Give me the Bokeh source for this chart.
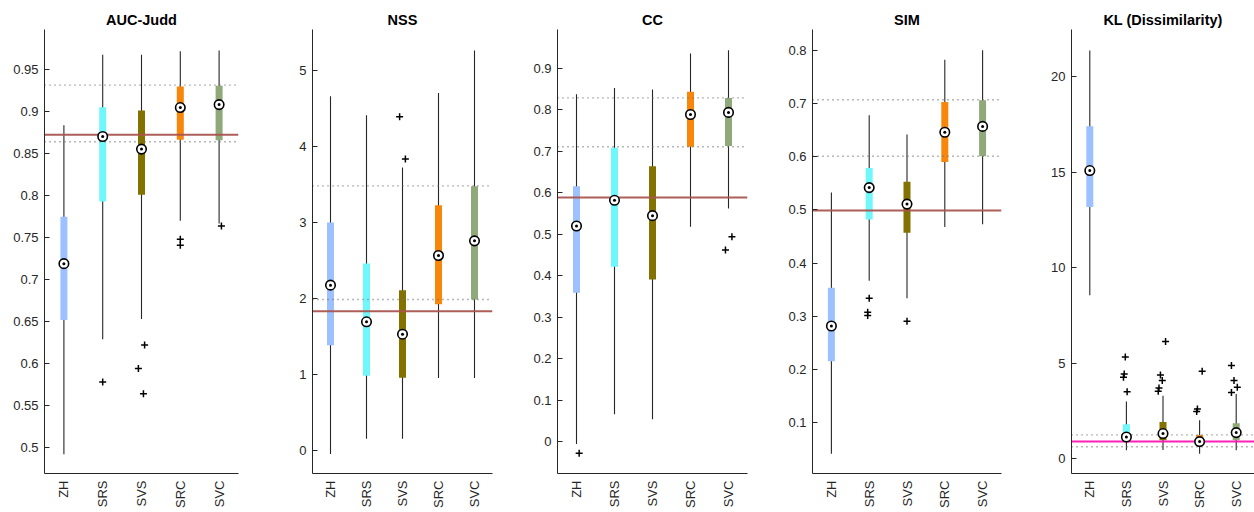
import math
from bokeh.plotting import figure
from bokeh.layouts import row
from bokeh.models import Range1d, FixedTicker
from bokeh.embed import file_html
from bokeh.resources import INLINE

categories = ["ZH", "SRS", "SVS", "SRC", "SVC"]
box_colors = ["#9dc1ff", "#70f7fb", "#847200", "#f7860b", "#8fa97b"]

# ---- AUC-Judd ----
auc_lo = [0.492, 0.629, 0.653, 0.770, 0.767]
auc_q1 = [0.652, 0.793, 0.801, 0.8665, 0.866]
auc_med = [0.719, 0.8705, 0.8555, 0.905, 0.9085]
auc_q3 = [0.775, 0.9055, 0.9015, 0.930, 0.931]
auc_hi = [0.884, 0.968, 0.968, 0.972, 0.973]
auc_out_cat = [2, 3, 3, 3, 4, 4, 5]
auc_out_val = [0.578, 0.622, 0.594, 0.564, 0.748, 0.741, 0.764]
auc_out_dx = [0.0, 0.08, -0.08, 0.05, 0.0, 0.0, 0.06]
auc_ref = 0.8725
auc_dots = [0.9317, 0.8643]
auc_ticks = [0.5, 0.55, 0.6, 0.65, 0.7, 0.75, 0.8, 0.85, 0.9, 0.95]
auc_tick_labels = ["0.5", "0.55", "0.6", "0.65", "0.7", "0.75", "0.8", "0.85", "0.9", "0.95"]

# ---- NSS ----
nss_lo = [-0.05, 0.15, 0.15, 0.95, 0.95]
nss_q1 = [1.382, 0.978, 0.952, 1.921, 1.982]
nss_med = [2.171, 1.689, 1.526, 2.561, 2.754]
nss_q3 = [2.996, 2.456, 2.105, 3.224, 3.474]
nss_hi = [4.658, 4.408, 3.72, 4.70, 5.26]
nss_out_cat = [3, 3]
nss_out_val = [4.386, 3.83]
nss_out_dx = [-0.08, 0.08]
nss_ref = 1.829
nss_dots = [3.478, 1.982]
nss_ticks = [0, 1, 2, 3, 4, 5]
nss_tick_labels = ["0", "1", "2", "3", "4", "5"]

# ---- CC ----
cc_lo = [-0.006, 0.066, 0.054, 0.518, 0.562]
cc_q1 = [0.359, 0.422, 0.391, 0.711, 0.713]
cc_med = [0.520, 0.582, 0.545, 0.789, 0.794]
cc_q3 = [0.616, 0.709, 0.664, 0.844, 0.829]
cc_hi = [0.838, 0.853, 0.849, 0.936, 0.944]
cc_out_cat = [1, 5, 5]
cc_out_val = [-0.028, 0.494, 0.462]
cc_out_dx = [0.07, 0.09, -0.08]
cc_ref = 0.589
cc_dots = [0.829, 0.711]
cc_ticks = [0, 0.1, 0.2, 0.3, 0.4, 0.5, 0.6, 0.7, 0.8, 0.9]
cc_tick_labels = ["0", "0.1", "0.2", "0.3", "0.4", "0.5", "0.6", "0.7", "0.8", "0.9"]

# ---- SIM ----
sim_lo = [0.042, 0.367, 0.334, 0.468, 0.473]
sim_q1 = [0.216, 0.482, 0.457, 0.590, 0.601]
sim_med = [0.282, 0.542, 0.511, 0.646, 0.657]
sim_q3 = [0.354, 0.579, 0.553, 0.703, 0.706]
sim_hi = [0.533, 0.678, 0.642, 0.782, 0.800]
sim_out_cat = [2, 2, 2, 3]
sim_out_val = [0.334, 0.308, 0.302, 0.291]
sim_out_dx = [0.0, -0.04, -0.04, 0.0]
sim_ref = 0.499
sim_dots = [0.707, 0.601]
sim_ticks = [0.1, 0.2, 0.3, 0.4, 0.5, 0.6, 0.7, 0.8]
sim_tick_labels = ["0.1", "0.2", "0.3", "0.4", "0.5", "0.6", "0.7", "0.8"]

# ---- KL (Dissimilarity) ----
kl_lo = [8.56, 0.44, 0.46, 0.26, 0.44]
kl_q1 = [13.17, 1.0, 0.97, 0.76, 0.97]
kl_med = [15.08, 1.14, 1.32, 0.90, 1.37]
kl_q3 = [17.40, 1.81, 1.93, 1.25, 1.86]
kl_hi = [21.36, 3.0, 3.30, 2.02, 3.39]
kl_out_cat = [2, 2, 2, 2, 3, 3, 3, 3, 3, 4, 4, 4, 5, 5, 5, 5]
kl_out_val = [5.32, 4.44, 4.26, 3.51, 6.14, 4.39, 4.09, 3.70, 3.53, 4.58, 2.60, 2.47, 4.88, 4.09, 3.74, 3.47]
kl_out_dx = [-0.03, -0.06, -0.08, 0.02, 0.07, -0.07, -0.02, -0.11, -0.13, 0.07, -0.06, -0.08, -0.13, -0.06, 0.03, -0.13]
kl_ref = 0.90
kl_dots = [1.25, 0.63]
kl_ticks = [0, 5, 10, 15, 20]
kl_tick_labels = ["0", "5", "10", "15", "20"]

panels = [
    dict(title="AUC-Judd", lo=auc_lo, q1=auc_q1, med=auc_med, q3=auc_q3, hi=auc_hi,
         oc=auc_out_cat, ov=auc_out_val, od=auc_out_dx, ref=auc_ref, ref_color="#a9554f",
         dots=auc_dots, ticks=auc_ticks, labels=auc_tick_labels, yr=(0.469, 0.998),
         w=270, bl=44, br=32),
    dict(title="NSS", lo=nss_lo, q1=nss_q1, med=nss_med, q3=nss_q3, hi=nss_hi,
         oc=nss_out_cat, ov=nss_out_val, od=nss_out_dx, ref=nss_ref, ref_color="#a9554f",
         dots=nss_dots, ticks=nss_ticks, labels=nss_tick_labels, yr=(-0.307, 5.535),
         w=250, bl=42, br=28),
    dict(title="CC", lo=cc_lo, q1=cc_q1, med=cc_med, q3=cc_q3, hi=cc_hi,
         oc=cc_out_cat, ov=cc_out_val, od=cc_out_dx, ref=cc_ref, ref_color="#a9554f",
         dots=cc_dots, ticks=cc_ticks, labels=cc_tick_labels, yr=(-0.077, 0.994),
         w=255, bl=37, br=28),
    dict(title="SIM", lo=sim_lo, q1=sim_q1, med=sim_med, q3=sim_q3, hi=sim_hi,
         oc=sim_out_cat, ov=sim_out_val, od=sim_out_dx, ref=sim_ref, ref_color="#a9554f",
         dots=sim_dots, ticks=sim_ticks, labels=sim_tick_labels, yr=(0.005, 0.839),
         w=255, bl=37, br=29),
    dict(title="KL (Dissimilarity)", lo=kl_lo, q1=kl_q1, med=kl_med, q3=kl_q3, hi=kl_hi,
         oc=kl_out_cat, ov=kl_out_val, od=kl_out_dx, ref=kl_ref, ref_color="#ff14b4",
         dots=kl_dots, ticks=kl_ticks, labels=kl_tick_labels, yr=(-0.77, 22.46),
         w=224, bl=41, br=0),
]

FONT = "Liberation Sans"
AX = "#262626"
X0, X1 = 0.5, 5.5
xs = list(range(1, len(categories) + 1))

figs = []
for pn in panels:
    y0, y1 = pn["yr"]
    p = figure(width=pn["w"], height=512, output_backend="svg", toolbar_location=None,
               x_range=Range1d(X0, X1), y_range=Range1d(y0, y1),
               min_border_left=pn["bl"], min_border_right=pn["br"],
               min_border_top=29, min_border_bottom=39)
    p.outline_line_color = None
    p.xgrid.visible = False
    p.ygrid.visible = False
    p.background_fill_color = "white"
    p.border_fill_color = "white"

    p.title.text = pn["title"]
    p.title.align = "center"
    p.title.text_font = FONT
    p.title.text_font_size = "14.5px"
    p.title.text_font_style = "bold"
    p.title.text_color = "black"
    p.title.standoff = 4

    ya = p.yaxis[0]
    ya.ticker = FixedTicker(ticks=pn["ticks"])
    ya.major_label_overrides = {t: l for t, l in zip(pn["ticks"], pn["labels"])}
    ya.major_tick_in = 5
    ya.major_tick_out = 0
    ya.minor_tick_line_color = None
    ya.axis_line_color = AX
    ya.major_tick_line_color = AX
    ya.major_label_text_color = AX
    ya.major_label_text_font = FONT
    ya.major_label_text_font_size = "13px"
    ya.major_label_standoff = 6

    xa = p.xaxis[0]
    xa.ticker = FixedTicker(ticks=xs)
    xa.major_label_overrides = {x: c for x, c in zip(xs, categories)}
    xa.major_label_orientation = math.pi / 2
    xa.major_tick_in = 0
    xa.major_tick_out = 0
    xa.minor_tick_line_color = None
    xa.major_tick_line_color = None
    xa.axis_line_color = AX
    xa.major_label_text_color = AX
    xa.major_label_text_font = FONT
    xa.major_label_text_font_size = "13px"
    xa.major_label_standoff = 7

    # whiskers
    p.segment(x0=xs, y0=pn["lo"], x1=xs, y1=pn["hi"], line_color="#262626", line_width=1.1)
    # boxes
    p.segment(x0=xs, y0=pn["q1"], x1=xs, y1=pn["q3"], line_color=box_colors,
              line_width=7, line_cap="butt")
    # dotted reference lines
    for d in pn["dots"]:
        p.segment(x0=[X0], y0=[d], x1=[X1], y1=[d], line_color="#6e6e6e",
                  line_width=1.4, line_dash="1 4")
    # reference line
    p.segment(x0=[X0], y0=[pn["ref"]], x1=[X1], y1=[pn["ref"]],
              line_color=pn["ref_color"], line_width=2, line_alpha=0.95)
    # medians
    p.scatter(xs, pn["med"], marker="circle", size=9.5, fill_color="white",
              line_color="black", line_width=1.6)
    p.scatter(xs, pn["med"], marker="circle", size=3, fill_color="black", line_color=None)
    # outliers
    ox = [c + d for c, d in zip(pn["oc"], pn["od"])]
    p.scatter(ox, pn["ov"], marker="cross", size=7, line_color="black", line_width=1.5)

    figs.append(p)

layout = row(*figs)
open("out.html", "w").write(file_html(layout, INLINE))
